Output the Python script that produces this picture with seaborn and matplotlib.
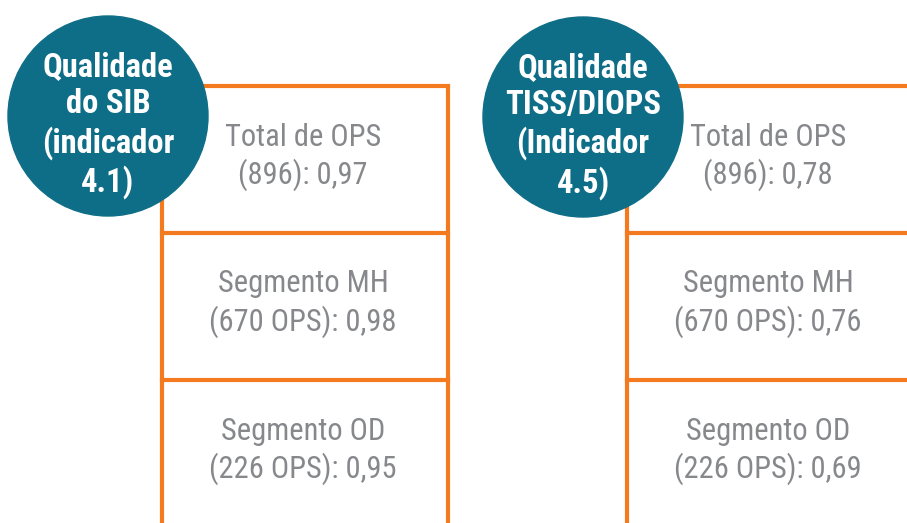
import matplotlib
matplotlib.use("Agg")
import matplotlib.pyplot as plt
from matplotlib.patches import Circle
import seaborn as sns

sns.set_theme(style="white")
plt.rcParams["font.family"] = ["Roboto Condensed", "DejaVu Sans"]

# data
panel_titles = ["Qualidade\ndo SIB\n(indicador\n4.1)", "Qualidade\nTISS/DIOPS\n(Indicador\n4.5)"]
row_labels = ["Total de OPS", "Segmento MH", "Segmento OD"]
row_counts = ["(896)", "(670 OPS)", "(226 OPS)"]
sib_values = ["0,97", "0,98", "0,95"]
tiss_values = ["0,78", "0,76", "0,69"]

TEAL = "#0f6e87"
ORANGE = "#f47a20"
GRAY = "#86888b"

W, H = 907, 523
fig = plt.figure(figsize=(W / 100, H / 100), dpi=100)
ax = fig.add_axes([0, 0, 1, 1])
ax.set_xlim(0, W)
ax.set_ylim(H, 0)
ax.axis("off")

row_top = [86, 233, 380]
row_bottom = 523
lw = 3.0

panels = [
    # box left, box right (None = open), text centre x, circle centre
    dict(left=162, right=448, tx=303, cx=108, cy=116, values=sib_values, title=panel_titles[0]),
    dict(left=627, right=None, tx=768, cx=583, cy=117, values=tiss_values, title=panel_titles[1]),
]

for p in panels:
    right = p["right"] if p["right"] is not None else W + 10
    for y in row_top:
        ax.plot([p["left"], right], [y, y], color=ORANGE, lw=lw, solid_capstyle="projecting", zorder=2)
    ax.plot([p["left"], p["left"]], [row_top[0], row_bottom + 5], color=ORANGE, lw=lw, zorder=2)
    if p["right"] is not None:
        ax.plot([right, right], [row_top[0], row_bottom + 5], color=ORANGE, lw=lw, zorder=2)

    for i, y in enumerate(row_top):
        ax.text(p["tx"], y + 51, row_labels[i], ha="center", va="center",
                fontsize=22, color=GRAY, zorder=3)
        ax.text(p["tx"], y + 89, f"{row_counts[i]}: {p['values'][i]}", ha="center", va="center",
                fontsize=22, color=GRAY, zorder=3)

    ax.add_patch(Circle((p["cx"], p["cy"]), 100, color=TEAL, zorder=4))
    ax.text(p["cx"], p["cy"] + 9, p["title"], ha="center", va="center", fontsize=23.5,
            fontweight="bold", color="white", linespacing=1.2, zorder=5)

fig.savefig("out.png", dpi=100)
